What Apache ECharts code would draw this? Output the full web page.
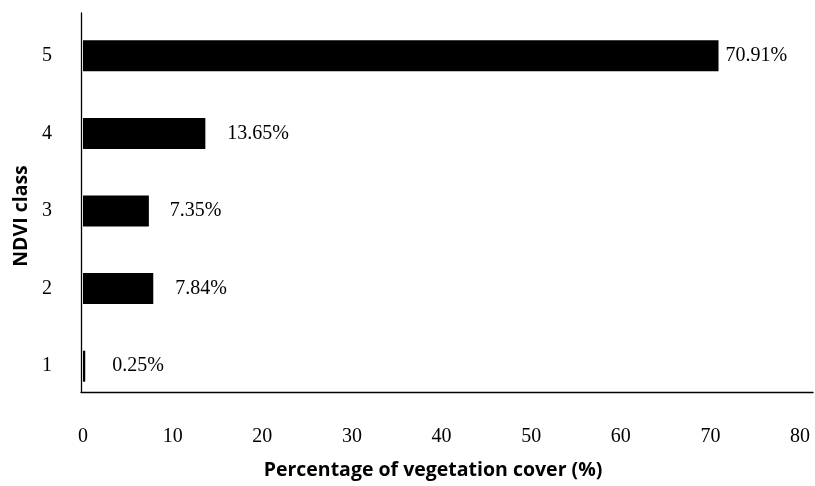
<!DOCTYPE html>
<html>
<head>
<meta charset="utf-8">
<script src="https://cdn.jsdelivr.net/npm/echarts@6/dist/echarts.min.js"></script>
<style>html,body{margin:0;padding:0;background:#fff}#c{width:815px;height:486px}</style>
</head>
<body>
<div id="c"></div>
<script>
const categories = ['1', '2', '3', '4', '5'];
const coverPercent = [0.25, 7.84, 7.35, 13.65, 70.91];
const xMin = 0, xMax = 80, xStep = 10;
const xAxisTitle = 'Percentage of vegetation cover (%)';
const yAxisTitle = 'NDVI class';
const labelDistances = [27, 22, 21, 22, 7];

const serif = '"Liberation Serif", "Times New Roman", serif';
const chart = echarts.init(document.getElementById('c'), null, {renderer: 'canvas'});
chart.setOption({
  animation: false,
  backgroundColor: '#fff',
  grid: [
    {left: 83, right: 15, top: 17, bottom: 81, containLabel: false},
    {left: 81, right: 2, top: 13, bottom: 94, containLabel: false}
  ],
  xAxis: [
    {
      gridIndex: 0, type: 'value', min: xMin, max: xMax, interval: xStep,
      axisLine: {show: false}, axisTick: {show: false}, splitLine: {show: false},
      axisLabel: {color: '#000', fontFamily: serif, fontSize: 20, margin: 22},
      name: xAxisTitle, nameLocation: 'middle', nameGap: 55,
      nameTextStyle: {color: '#000', fontFamily: '"Open Sans", sans-serif', fontWeight: 'bold', fontSize: 19.5, padding: [0, 17, 0, 0]}
    },
    {
      gridIndex: 1, type: 'value', min: 0, max: 1,
      axisLine: {show: true, onZero: false, lineStyle: {color: '#000', width: 1.3}},
      axisTick: {show: false}, axisLabel: {show: false}, splitLine: {show: false}
    }
  ],
  yAxis: [
    {
      gridIndex: 0, type: 'category', data: categories,
      axisLine: {show: false}, axisTick: {show: false}, splitLine: {show: false},
      axisLabel: {color: '#000', fontFamily: serif, fontSize: 20, margin: 31},
      name: yAxisTitle, nameLocation: 'middle', nameGap: 52,
      nameTextStyle: {color: '#000', fontFamily: '"Open Sans", sans-serif', fontWeight: 'bold', fontSize: 19.5, padding: [0, 10, 0, 0]}
    },
    {
      gridIndex: 1, type: 'value', min: 0, max: 1,
      axisLine: {show: true, onZero: false, lineStyle: {color: '#000', width: 1.3}},
      axisTick: {show: false}, axisLabel: {show: false}, splitLine: {show: false}
    }
  ],
  series: [{
    type: 'bar',
    xAxisIndex: 0, yAxisIndex: 0,
    barWidth: 31,
    itemStyle: {color: '#000'},
    data: coverPercent.map((v, i) => ({
      value: v,
      label: {distance: labelDistances[i]}
    })),
    label: {
      show: true, position: 'right', color: '#000',
      fontFamily: serif, fontSize: 20,
      formatter: p => p.value.toFixed(2) + '%'
    }
  }]
});
</script>
</body>
</html>
